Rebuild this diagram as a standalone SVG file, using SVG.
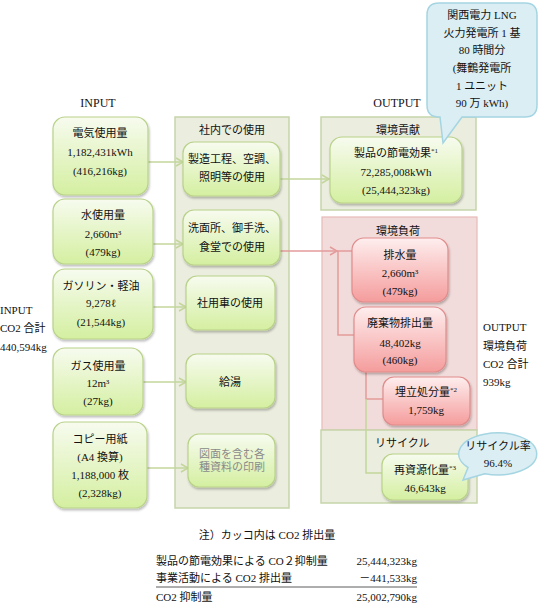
<svg xmlns="http://www.w3.org/2000/svg" width="539" height="607" viewBox="0 0 539 607">
<defs>
<linearGradient id="gG" x1="0" y1="0" x2="0" y2="1"><stop offset="0" stop-color="#f7fbef"/><stop offset="1" stop-color="#d4efa0"/></linearGradient>
<linearGradient id="gR" x1="0" y1="0" x2="0" y2="1"><stop offset="0" stop-color="#feeeee"/><stop offset="1" stop-color="#f59c9c"/></linearGradient>
<filter id="sh" x="-10%" y="-10%" width="130%" height="130%"><feDropShadow dx="1" dy="2" stdDeviation="1.2" flood-color="#000" flood-opacity="0.25"/></filter>
<marker id="aG" markerWidth="10" markerHeight="10" refX="8" refY="5" orient="auto" markerUnits="userSpaceOnUse"><path d="M1,1 L8,5 L1,9" fill="none" stroke="#c3d69b" stroke-width="1.5"/></marker>
<marker id="aR" markerWidth="10" markerHeight="10" refX="8" refY="5" orient="auto" markerUnits="userSpaceOnUse"><path d="M1,1 L8,5 L1,9" fill="none" stroke="#e39b9b" stroke-width="1.5"/></marker>
</defs>
<style>
text{font-family:"Liberation Serif","Noto Sans CJK JP",serif;font-size:11px;fill:#111}
.c{text-anchor:middle}
.gb{fill:url(#gG);stroke:#b9d28a;stroke-width:1.2;filter:url(#sh)}
.rb{fill:url(#gR);stroke:#e08c8c;stroke-width:1.2;filter:url(#sh)}
.gp{fill:#ebeddf;stroke:#c6d5aa;stroke-width:1.5}
.rp{fill:#f2dcdb;stroke:#e6b9b8;stroke-width:1.2}
.lg{fill:none;stroke:#c3d69b;stroke-width:1.5}
.lr{fill:none;stroke:#e39b9b;stroke-width:1.5}
.cal{fill:#dbeef4;stroke:#a5d5e2;stroke-width:1.5}
.sup{font-size:7px}
.gray{fill:#8a8a8a}
</style>
<rect width="539" height="607" fill="#fff"/>

<!-- panels -->
<g id="panel-internal"><rect class="gp" x="175" y="117" width="114" height="391"/><text class="c" x="232" y="134">社内での使用</text></g>
<g id="panel-contrib"><rect class="gp" x="321" y="117" width="155" height="93"/><text class="c" x="398" y="134">環境貢献</text></g>
<g id="panel-load"><rect class="rp" x="322" y="217" width="155" height="213"/><text class="c" x="398" y="235">環境負荷</text></g>
<g id="panel-recycle"><rect class="gp" x="321" y="430" width="156" height="73"/><text x="375" y="447">リサイクル</text></g>

<!-- connectors -->
<g id="connectors">
<line class="lg" x1="148" y1="162" x2="183" y2="162" marker-end="url(#aG)"/>
<line class="lg" x1="153" y1="244" x2="183" y2="244" marker-end="url(#aG)"/>
<line class="lg" x1="153" y1="307" x2="186" y2="307" marker-end="url(#aG)"/>
<line class="lg" x1="143" y1="382" x2="186" y2="382" marker-end="url(#aG)"/>
<line class="lg" x1="147" y1="468" x2="188" y2="468" marker-end="url(#aG)"/>
<line class="lg" x1="280" y1="179" x2="329" y2="179" marker-end="url(#aG)"/>
<line class="lr" x1="280" y1="251" x2="337" y2="251" marker-end="url(#aR)"/>
<polyline class="lr" points="337,251 352,251"/>
<polyline class="lr" points="338,251 338,335 354,335"/>
<polyline class="lr" points="366,372 366,399 383,399"/>
<polyline class="lg" points="366,399 366,473 382,473"/>
</g>

<!-- headers -->
<g id="labels">
<text class="c" x="98" y="107" style="font-size:12px">INPUT</text>
<text class="c" x="397" y="107" style="font-size:12px">OUTPUT</text>
<text x="0" y="314">INPUT</text>
<text x="0" y="332">CO2 合計</text>
<text x="0" y="351">440,594kg</text>
<text x="483" y="331">OUTPUT</text>
<text x="483" y="350">環境負荷</text>
<text x="483" y="368">CO2 合計</text>
<text x="483" y="386">939kg</text>
</g>

<!-- input nodes -->
<g id="n-electric"><rect class="gb" x="53" y="117" width="95" height="78" rx="12"/>
<text class="c" x="100" y="137">電気使用量</text><text class="c" x="100" y="156">1,182,431kWh</text><text class="c" x="100" y="175">(416,216kg)</text></g>
<g id="n-water"><rect class="gb" x="53" y="199" width="100" height="65" rx="12"/>
<text class="c" x="103" y="219">水使用量</text><text class="c" x="103" y="238">2,660m³</text><text class="c" x="103" y="256">(479kg)</text></g>
<g id="n-gasoline"><rect class="gb" x="53" y="269" width="100" height="70" rx="12"/>
<text class="c" x="101" y="290">ガソリン・軽油</text><text class="c" x="101" y="307">9,278ℓ</text><text class="c" x="101" y="326">(21,544kg)</text></g>
<g id="n-gas"><rect class="gb" x="53" y="348" width="90" height="67" rx="12"/>
<text class="c" x="98" y="370">ガス使用量</text><text class="c" x="98" y="387">12m³</text><text class="c" x="98" y="405">(27kg)</text></g>
<g id="n-paper"><rect class="gb" x="53" y="422" width="94" height="86" rx="12"/>
<text class="c" x="100" y="443">コピー用紙</text><text class="c" x="100" y="461">(A4 換算)</text><text class="c" x="100" y="479">1,188,000 枚</text><text class="c" x="100" y="497">(2,328kg)</text></g>

<!-- internal nodes -->
<g id="n-manufacture"><rect class="gb" x="183" y="142" width="97" height="54" rx="11"/>
<text class="c" x="232" y="163">製造工程、空調、</text><text class="c" x="232" y="181">照明等の使用</text></g>
<g id="n-washroom"><rect class="gb" x="183" y="210" width="97" height="55" rx="11"/>
<text class="c" x="232" y="232">洗面所、御手洗、</text><text class="c" x="232" y="251">食堂での使用</text></g>
<g id="n-car"><rect class="gb" x="186" y="276" width="89" height="54" rx="11"/>
<text class="c" x="230" y="307">社用車の使用</text></g>
<g id="n-hotwater"><rect class="gb" x="186" y="354" width="89" height="54" rx="11"/>
<text class="c" x="230" y="386">給湯</text></g>
<g id="n-print"><rect class="gb" x="188" y="434" width="87" height="53" rx="11"/>
<text class="c gray" x="232" y="458">図面を含む各</text><text class="c gray" x="232" y="471">種資料の印刷</text></g>

<!-- output nodes -->
<g id="n-saving"><rect class="gb" x="330" y="137" width="132" height="66" rx="12"/>
<text class="c" x="396" y="157">製品の節電効果<tspan class="sup" dy="-4">*1</tspan></text><text class="c" x="396" y="176">72,285,008kWh</text><text class="c" x="396" y="194">(25,444,323kg)</text></g>
<g id="n-drain"><rect class="rb" x="352" y="238" width="96" height="64" rx="12"/>
<text class="c" x="400" y="259">排水量</text><text class="c" x="400" y="277">2,660m³</text><text class="c" x="400" y="295">(479kg)</text></g>
<g id="n-waste"><rect class="rb" x="354" y="307" width="92" height="65" rx="12"/>
<text class="c" x="400" y="327">廃棄物排出量</text><text class="c" x="400" y="347">48,402kg</text><text class="c" x="400" y="364">(460kg)</text></g>
<g id="n-landfill"><rect class="rb" x="383" y="377" width="87" height="48" rx="11"/>
<text class="c" x="426" y="396">埋立処分量<tspan class="sup" dy="-4">*2</tspan></text><text class="c" x="426" y="414">1,759kg</text></g>
<g id="n-recycled"><rect class="gb" x="382" y="454" width="86" height="46" rx="11"/>
<text class="c" x="425" y="474">再資源化量<tspan class="sup" dy="-4">*3</tspan></text><text class="c" x="425" y="492">46,643kg</text></g>

<!-- callouts -->
<g id="callout-lng">
<path class="cal" d="M439,3 H525 Q537,3 537,15 V105 Q537,117 525,117 H462 L443,143 L440,117 H439 Q427,117 427,105 V15 Q427,3 439,3 Z"/>
<text class="c" x="482" y="19">関西電力 LNG</text>
<text class="c" x="482" y="37">火力発電所 1 基</text>
<text class="c" x="482" y="54">80 時間分</text>
<text class="c" x="482" y="72">(舞鶴発電所</text>
<text class="c" x="482" y="90">1 ユニット</text>
<text class="c" x="482" y="107">90 万 kWh)</text>
</g>
<g id="callout-recycle">
<path class="cal" d="M484.7,473.7 L463,480 L468,467.5 A39,21 0 1 1 484.7,473.7 Z"/>
<text class="c" x="498" y="450">リサイクル率</text>
<text class="c" x="498" y="467">96.4%</text>
</g>

<!-- notes -->
<g id="notes">
<text class="c" x="267" y="539">注）カッコ内は CO2 排出量</text>
<text x="156" y="565">製品の節電効果による CO２抑制量</text>
<text x="417" y="565" style="text-anchor:end">25,444,323kg</text>
<text x="156" y="582">事業活動による CO2 排出量</text>
<text x="417" y="582" style="text-anchor:end">－441,533kg</text>
<line x1="156" y1="587" x2="417" y2="587" stroke="#333" stroke-width="0.8"/>
<text x="156" y="601">CO2 抑制量</text>
<text x="417" y="601" style="text-anchor:end">25,002,790kg</text>
</g>
</svg>
